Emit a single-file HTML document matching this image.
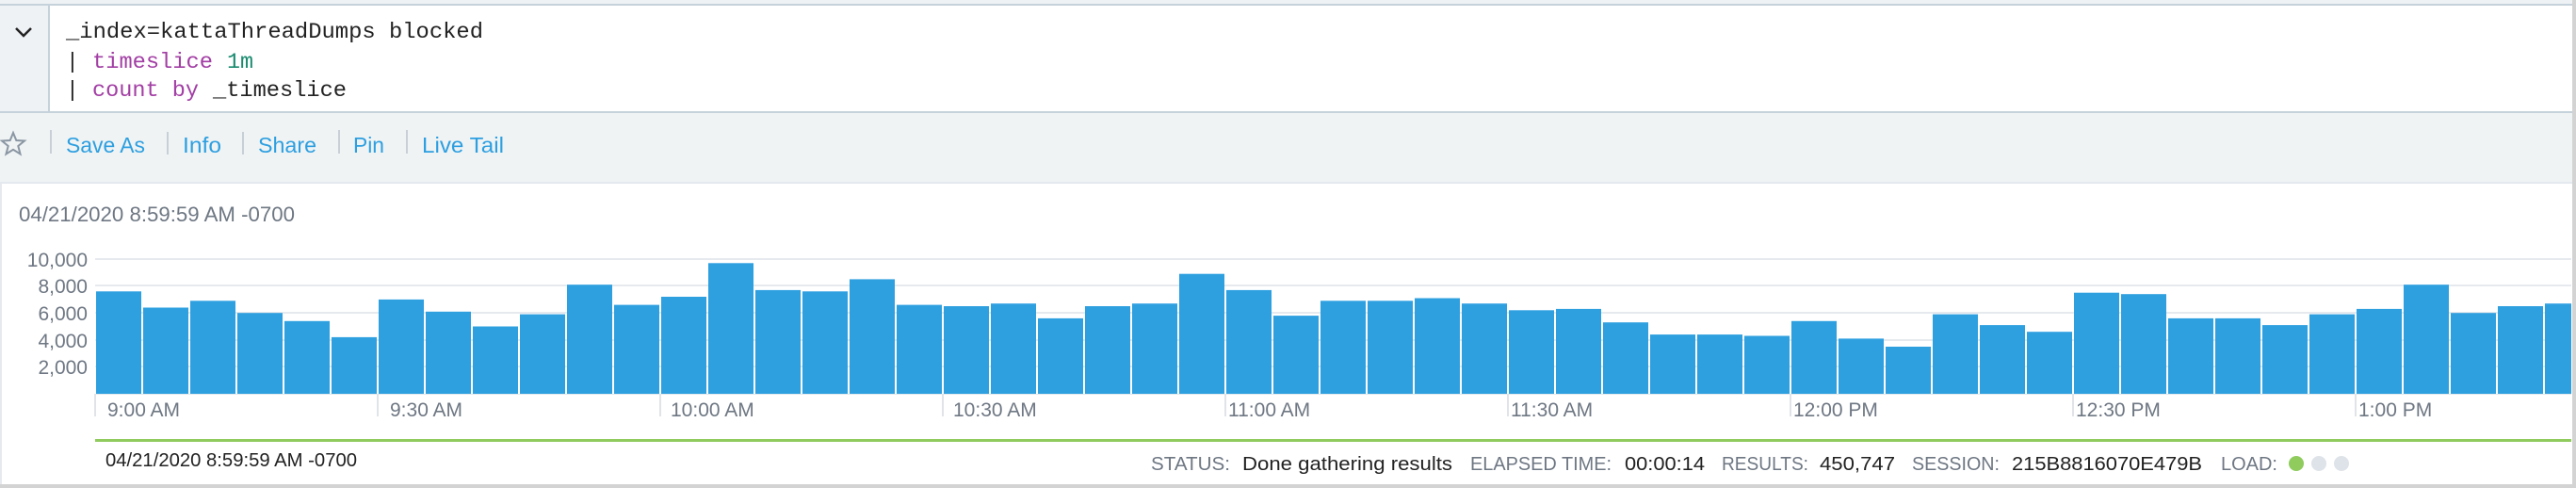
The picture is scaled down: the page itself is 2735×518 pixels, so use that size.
<!DOCTYPE html>
<html><head><meta charset="utf-8"><style>
html,body{margin:0;padding:0;background:#fff;}
svg{display:block}
text{font-family:"Liberation Sans",sans-serif}
.m{font-family:"Liberation Mono",monospace}
</style></head><body>
<svg width="2735" height="518" viewBox="0 0 2735 518" xmlns="http://www.w3.org/2000/svg">
<rect x="0" y="0" width="2735" height="518" fill="#fff"/>
<rect x="0" y="0" width="2735" height="4" fill="#eef2f4"/>
<rect x="0" y="4" width="2735" height="2" fill="#c6d2db"/>
<rect x="0" y="6" width="52" height="112" fill="#eef2f4"/>
<rect x="51" y="6" width="2" height="112" fill="#c6d2db"/>
<polyline points="17,30 25,38 33,30" fill="none" stroke="#222" stroke-width="2.5"/>
<text class="m" x="70" y="40" font-size="23" fill="#222" textLength="443" lengthAdjust="spacingAndGlyphs">_index=kattaThreadDumps blocked</text>
<text class="m" x="70" y="72" font-size="23" fill="#222">|</text>
<text class="m" x="98" y="72" font-size="23" fill="#a23ea4" textLength="128" lengthAdjust="spacingAndGlyphs">timeslice</text>
<text class="m" x="241" y="72" font-size="23" fill="#178a6e" textLength="28" lengthAdjust="spacingAndGlyphs">1m</text>
<text class="m" x="70" y="102" font-size="23" fill="#222">|</text>
<text class="m" x="98" y="102" font-size="23" fill="#a23ea4" textLength="113" lengthAdjust="spacingAndGlyphs">count by</text>
<text class="m" x="226" y="102" font-size="23" fill="#222" textLength="142" lengthAdjust="spacingAndGlyphs">_timeslice</text>
<rect x="0" y="118" width="2735" height="2" fill="#c6d2db"/>
<rect x="0" y="120" width="2735" height="73" fill="#eff3f4"/>
<rect x="0" y="193" width="2735" height="2" fill="#e3e9ee"/>
<polygon points="14,141 17.3,149 26,149.5 19.3,155 21.5,163.5 14,158.8 6.5,163.5 8.7,155 2,149.5 10.7,149" fill="none" stroke="#8a96a3" stroke-width="2"/>
<g fill="#c8d0d7"><rect x="53" y="138" width="2" height="25"/><rect x="177" y="140" width="2" height="24"/><rect x="257" y="140" width="2" height="24"/><rect x="359" y="138" width="2" height="25"/><rect x="431" y="138" width="2" height="25"/></g>
<g fill="#2d9fe0" font-size="23">
<text x="70" y="162" textLength="84" lengthAdjust="spacingAndGlyphs">Save As</text>
<text x="194" y="162" textLength="41" lengthAdjust="spacingAndGlyphs">Info</text>
<text x="274" y="162" textLength="62" lengthAdjust="spacingAndGlyphs">Share</text>
<text x="375" y="162" textLength="33" lengthAdjust="spacingAndGlyphs">Pin</text>
<text x="448" y="162" textLength="87" lengthAdjust="spacingAndGlyphs">Live Tail</text>
</g>
<text x="20" y="235" font-size="22" fill="#6e7783" textLength="293" lengthAdjust="spacingAndGlyphs">04/21/2020 8:59:59 AM -0700</text>
<g fill="#e6eaee">
<rect x="101" y="274" width="2629" height="2"/><rect x="101" y="302" width="2629" height="2"/><rect x="101" y="331" width="2629" height="2"/><rect x="101" y="360" width="2629" height="2"/><rect x="101" y="388" width="2629" height="2"/>
</g>
<g fill="#6e7783" font-size="21" text-anchor="end">
<text x="93" y="283">10,000</text><text x="93" y="311">8,000</text><text x="93" y="340">6,000</text><text x="93" y="369">4,000</text><text x="93" y="397">2,000</text>
</g>
<svg x="0" y="0" width="2730" height="518">
<g fill="#2ea0e0">
<rect x="102" y="309.3" width="48" height="108.7"/>
<rect x="152" y="326.5" width="48" height="91.5"/>
<rect x="202" y="319.3" width="48" height="98.7"/>
<rect x="252" y="332.2" width="48" height="85.8"/>
<rect x="302" y="340.8" width="48" height="77.2"/>
<rect x="352" y="357.9" width="48" height="60.1"/>
<rect x="402" y="317.9" width="48" height="100.1"/>
<rect x="452" y="330.8" width="48" height="87.2"/>
<rect x="502" y="346.5" width="48" height="71.5"/>
<rect x="552" y="333.6" width="48" height="84.4"/>
<rect x="602" y="302.2" width="48" height="115.8"/>
<rect x="652" y="323.6" width="48" height="94.4"/>
<rect x="702" y="315" width="48" height="103"/>
<rect x="752" y="279.3" width="48" height="138.7"/>
<rect x="802" y="307.9" width="48" height="110.1"/>
<rect x="852" y="309.3" width="48" height="108.7"/>
<rect x="902" y="296.4" width="48" height="121.6"/>
<rect x="952" y="323.6" width="48" height="94.4"/>
<rect x="1002" y="325" width="48" height="93"/>
<rect x="1052" y="322.2" width="48" height="95.8"/>
<rect x="1102" y="337.9" width="48" height="80.1"/>
<rect x="1152" y="325" width="48" height="93"/>
<rect x="1202" y="322.2" width="48" height="95.8"/>
<rect x="1252" y="290.7" width="48" height="127.3"/>
<rect x="1302" y="307.9" width="48" height="110.1"/>
<rect x="1352" y="335.1" width="48" height="82.9"/>
<rect x="1402" y="319.3" width="48" height="98.7"/>
<rect x="1452" y="319.3" width="48" height="98.7"/>
<rect x="1502" y="316.5" width="48" height="101.5"/>
<rect x="1552" y="322.2" width="48" height="95.8"/>
<rect x="1602" y="329.3" width="48" height="88.7"/>
<rect x="1652" y="327.9" width="48" height="90.1"/>
<rect x="1702" y="342.2" width="48" height="75.8"/>
<rect x="1752" y="355.1" width="48" height="62.9"/>
<rect x="1802" y="355.1" width="48" height="62.9"/>
<rect x="1852" y="356.5" width="48" height="61.5"/>
<rect x="1902" y="340.8" width="48" height="77.2"/>
<rect x="1952" y="359.4" width="48" height="58.6"/>
<rect x="2002" y="368" width="48" height="50"/>
<rect x="2052" y="333.6" width="48" height="84.4"/>
<rect x="2102" y="345.1" width="48" height="72.9"/>
<rect x="2152" y="352.2" width="48" height="65.8"/>
<rect x="2202" y="310.7" width="48" height="107.3"/>
<rect x="2252" y="312.2" width="48" height="105.8"/>
<rect x="2302" y="337.9" width="48" height="80.1"/>
<rect x="2352" y="337.9" width="48" height="80.1"/>
<rect x="2402" y="345.1" width="48" height="72.9"/>
<rect x="2452" y="333.6" width="48" height="84.4"/>
<rect x="2502" y="327.9" width="48" height="90.1"/>
<rect x="2552" y="302.2" width="48" height="115.8"/>
<rect x="2602" y="332.2" width="48" height="85.8"/>
<rect x="2652" y="325" width="48" height="93"/>
<rect x="2702" y="322.2" width="48" height="95.8"/>
</g>
</svg>
<rect x="101" y="418" width="2629" height="1" fill="#e6eaee"/>
<g fill="#e0e4e8">
<rect x="100" y="418" width="2" height="24"/><rect x="400" y="418" width="2" height="24"/><rect x="700" y="418" width="2" height="24"/><rect x="1000" y="418" width="2" height="24"/><rect x="1300" y="418" width="2" height="24"/><rect x="1600" y="418" width="2" height="24"/><rect x="1900" y="418" width="2" height="24"/><rect x="2200" y="418" width="2" height="24"/><rect x="2500" y="418" width="2" height="24"/>
</g>
<g fill="#6e7783" font-size="21">
<text x="114" y="442">9:00 AM</text><text x="414" y="442">9:30 AM</text><text x="712" y="442">10:00 AM</text><text x="1012" y="442">10:30 AM</text><text x="1304" y="442">11:00 AM</text><text x="1604" y="442">11:30 AM</text><text x="1904" y="442">12:00 PM</text><text x="2204" y="442">12:30 PM</text><text x="2504" y="442">1:00 PM</text>
</g>
<rect x="101" y="466" width="2629" height="3" fill="#8fcb5d"/>
<g font-size="20">
<text x="112" y="495" fill="#222" textLength="267" lengthAdjust="spacingAndGlyphs">04/21/2020 8:59:59 AM -0700</text>
<text x="1222" y="499" fill="#6e7783" textLength="84" lengthAdjust="spacingAndGlyphs">STATUS:</text>
<text x="1319" y="499" fill="#222" textLength="223" lengthAdjust="spacingAndGlyphs">Done gathering results</text>
<text x="1561" y="499" fill="#6e7783" textLength="150" lengthAdjust="spacingAndGlyphs">ELAPSED TIME:</text>
<text x="1725" y="499" fill="#222" textLength="85" lengthAdjust="spacingAndGlyphs">00:00:14</text>
<text x="1828" y="499" fill="#6e7783" textLength="92" lengthAdjust="spacingAndGlyphs">RESULTS:</text>
<text x="1932" y="499" fill="#222" textLength="80" lengthAdjust="spacingAndGlyphs">450,747</text>
<text x="2030" y="499" fill="#6e7783" textLength="93" lengthAdjust="spacingAndGlyphs">SESSION:</text>
<text x="2136" y="499" fill="#222" textLength="202" lengthAdjust="spacingAndGlyphs">215B8816070E479B</text>
<text x="2358" y="499" fill="#6e7783" textLength="60" lengthAdjust="spacingAndGlyphs">LOAD:</text>
</g>
<circle cx="2438" cy="492" r="8" fill="#8fcb5d"/>
<circle cx="2462" cy="492" r="8" fill="#dde3e8"/>
<circle cx="2486" cy="492" r="8" fill="#dde3e8"/>
<rect x="0" y="195" width="2" height="319" fill="#e6eaee"/>
<rect x="0" y="514" width="2735" height="4" fill="#d3d3d3"/>
<rect x="2731" y="0" width="4" height="518" fill="#d3d3d3"/>
</svg>
</body></html>
